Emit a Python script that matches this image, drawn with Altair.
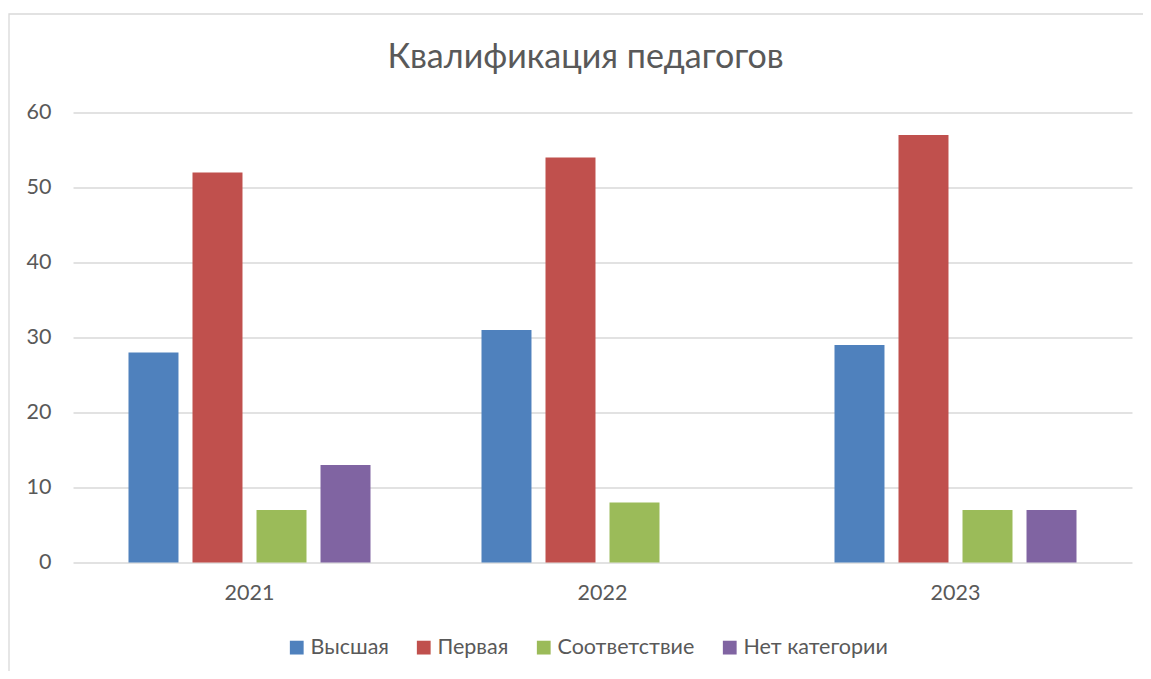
import altair as alt
import pandas as pd

years = ["2021", "2022", "2023"]
categories = ["Высшая", "Первая", "Соответствие", "Нет категории"]
vysshaya = [28, 31, 29]
pervaya = [52, 54, 57]
sootv = [7, 8, 7]
net_kat = [13, 0, 7]
colors = ["#4F81BD", "#C0504D", "#9BBB59", "#8064A2"]

rows = []
for i, y in enumerate(years):
    for cat, series in zip(categories, [vysshaya, pervaya, sootv, net_kat]):
        rows.append({"year": y, "cat": cat, "value": series[i]})
df = pd.DataFrame(rows)

FONT = "Lato"
W, H = 1059, 450

bars = alt.Chart(df).mark_bar().encode(
    x=alt.X("year:N", sort=years, title=None,
            scale=alt.Scale(paddingInner=0, paddingOuter=0),
            axis=alt.Axis(labelAngle=0, labelFontSize=21.5, labelColor="#595959",
                          labelFont=FONT, domain=False, ticks=False, labelPadding=20)),
    xOffset=alt.XOffset("cat:N", sort=categories,
                        scale=alt.Scale(paddingInner=0.219, paddingOuter=0.867)),
    y=alt.Y("value:Q", title=None,
            scale=alt.Scale(domain=[0, 60], nice=False),
            axis=alt.Axis(values=[0, 10, 20, 30, 40, 50, 60], labelFontSize=21.5,
                          labelColor="#595959", labelFont=FONT, domain=False, ticks=False,
                          labelPadding=22, gridColor="#D9D9D9", gridWidth=1.3)),
    color=alt.Color("cat:N", sort=categories,
                    scale=alt.Scale(domain=categories, range=colors),
                    legend=alt.Legend(title=None, orient="none", direction="horizontal",
                                      legendX=213, legendY=524, symbolType="square",
                                      symbolSize=190, symbolStrokeWidth=0, symbolOpacity=1,
                                      labelFontSize=21.5, labelColor="#595959", labelFont=FONT,
                                      labelOffset=3, columnPadding=24, labelLimit=300)),
)

border = alt.Chart(pd.DataFrame({"a": [0]})).mark_rect(
    fill=None, stroke="#D9D9D9", strokeWidth=1.3
).encode(
    x=alt.value(-64), x2=alt.value(1100), y=alt.value(-98.5), y2=alt.value(600)
)

chart = alt.layer(border, bars).properties(
    width=W, height=H,
    title=alt.Title("Квалификация педагогов", fontSize=34, font=FONT, fontWeight="normal",
                    color="#595959", anchor="middle", dx=-17, offset=-88.5, frame="group",
                    baseline="alphabetic"),
    autosize=alt.AutoSizeParams(type="none"),
    padding={"left": 65, "top": 104.5, "right": 11, "bottom": 108},
).configure_view(stroke=None)

chart.save("out.html", embed_options={"renderer": "svg", "actions": False})
